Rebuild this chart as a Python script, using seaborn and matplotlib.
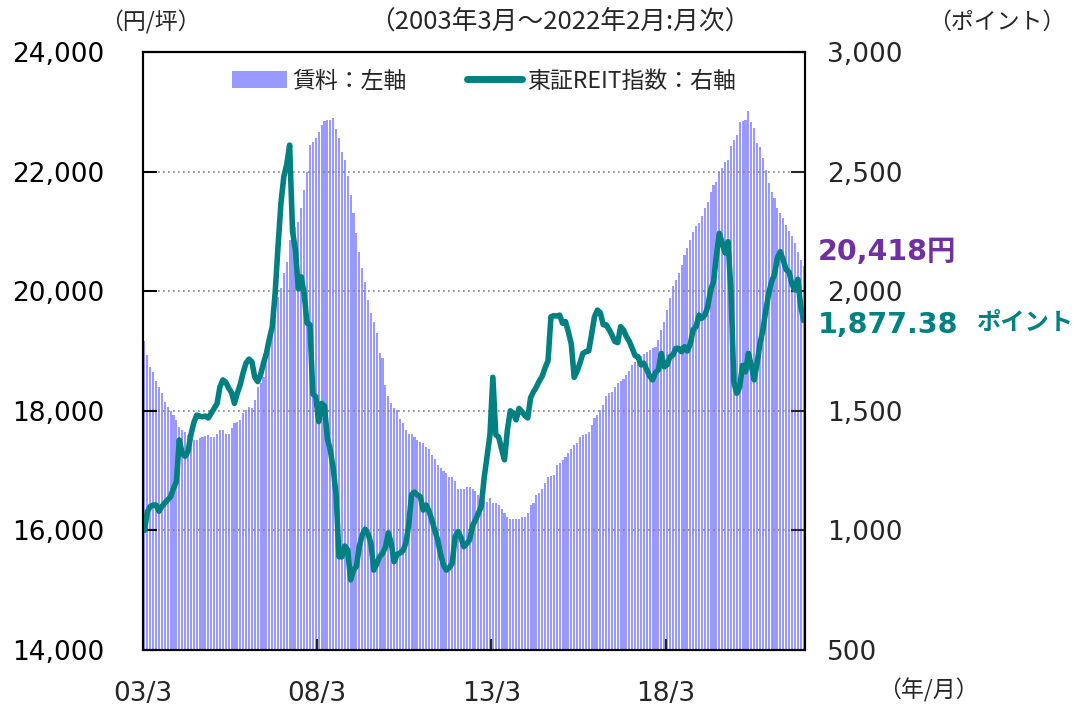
import numpy as np
import pandas as pd

import matplotlib
matplotlib.use("Agg")
import matplotlib.pyplot as plt
from matplotlib.patches import Patch
from matplotlib.lines import Line2D
from matplotlib.ticker import FuncFormatter
import seaborn as sns

# monthly data, 2003/3 - 2022/2
months = pd.date_range("2003-03-01", periods=228, freq="MS")

# office rent (yen / tsubo), left axis
rent = [
    19160, 18930, 18740, 18650, 18490, 18400, 18290, 18150, 18070, 17990,
    17930, 17850, 17730, 17680, 17650, 17600, 17510, 17510, 17510, 17540,
    17570, 17580, 17600, 17560, 17560, 17620, 17680, 17680, 17620, 17620,
    17710, 17790, 17820, 17850, 17960, 18020, 18070, 18040, 18180, 18400,
    18460, 18570, 18850, 19100, 19350, 19740, 19910, 20050, 20300, 20480,
    20860, 21080, 21080, 21160, 21390, 21690, 22000, 22450, 22490, 22560,
    22670, 22780, 22840, 22860, 22860, 22890, 22720, 22560, 22330, 22190,
    21920, 21610, 21300, 20970, 20660, 20380, 20160, 19850, 19630, 19490,
    19300, 18960, 18890, 18430, 18240, 18130, 18040, 18010, 17860, 17790,
    17680, 17620, 17620, 17560, 17510, 17480, 17460, 17400, 17360, 17260,
    17190, 17090, 17040, 17000, 16960, 16900, 16890, 16830, 16700, 16700,
    16700, 16730, 16720, 16700, 16660, 16590, 16550, 16510, 16480, 16540,
    16460, 16450, 16430, 16350, 16290, 16230, 16190, 16190, 16190, 16190,
    16220, 16220, 16290, 16430, 16450, 16590, 16620, 16690, 16790, 16890,
    16910, 16930, 17090, 17130, 17170, 17220, 17290, 17360, 17420, 17460,
    17560, 17600, 17620, 17650, 17760, 17880, 17930, 18010, 18100, 18250,
    18290, 18320, 18400, 18460, 18490, 18530, 18600, 18660, 18770, 18820,
    18880, 18910, 18950, 18990, 19020, 19050, 19070, 19190, 19350, 19490,
    19690, 19880, 20080, 20190, 20300, 20440, 20600, 20720, 20860, 20995,
    21090, 21134, 21256, 21385, 21496, 21663, 21775, 21830, 21997, 22053,
    22164, 22192, 22428, 22528, 22612, 22835, 22840, 22863, 23014, 22835,
    22724, 22473, 22417, 22220, 22027, 21815, 21663, 21552, 21385, 21302,
    21218, 21110, 21000, 20920, 20800, 20660, 20520, 20418,
]

# TSE REIT index (points), right axis
reit = [
    1000, 1078, 1100, 1106, 1106, 1080, 1100, 1115, 1127, 1141,
    1176, 1204, 1378, 1322, 1310, 1330, 1400, 1450, 1482, 1478,
    1475, 1478, 1470, 1490, 1510, 1530, 1600, 1629, 1620, 1595,
    1576, 1531, 1575, 1610, 1660, 1700, 1716, 1705, 1640, 1622,
    1650, 1700, 1740, 1800, 1850, 1990, 2186, 2367, 2479, 2530,
    2611, 2250, 2172, 2010, 2060, 1990, 1866, 1860, 1570, 1559,
    1455, 1531, 1520, 1385, 1336, 1260, 1150, 890, 890, 935,
    918, 793, 834, 850, 932, 981, 1005, 985, 946, 834,
    860, 890, 904, 930, 990, 946, 869, 900, 905, 915,
    946, 1020, 1150, 1160, 1148, 1141, 1085, 1106, 1080, 1043,
    1000, 960, 900, 855, 834, 845, 862, 974, 995, 970,
    932, 945, 960, 1020, 1043, 1071, 1100, 1220, 1310, 1400,
    1640, 1400, 1390, 1340, 1295, 1420, 1500, 1490, 1462, 1510,
    1496, 1480, 1470, 1555, 1580, 1600, 1625, 1645, 1680, 1710,
    1893, 1898, 1896, 1900, 1866, 1873, 1830, 1780, 1640, 1665,
    1700, 1740, 1747, 1750, 1820, 1893, 1921, 1910, 1860, 1860,
    1840, 1817, 1790, 1785, 1852, 1838, 1810, 1790, 1761, 1730,
    1726, 1692, 1699, 1671, 1645, 1629, 1660, 1671, 1740, 1684,
    1692, 1726, 1733, 1761, 1761, 1747, 1768, 1750, 1780, 1840,
    1852, 1900, 1887, 1900, 1935, 2005, 2040, 2150, 2242, 2200,
    2160, 2207, 2000, 1620, 1573, 1600, 1690, 1663, 1740, 1690,
    1629, 1700, 1780, 1838, 1920, 1990, 2040, 2070, 2140, 2165,
    2130, 2090, 2080, 2030, 2005, 2050, 1940, 1877.38,
]

xtick_labels = ["03/3", "08/3", "13/3", "18/3"]
rent_ticks = [14000, 16000, 18000, 20000, 22000, 24000]
reit_ticks = [500, 1000, 1500, 2000, 2500, 3000]

BAR_COLOR = "#9999FF"
LINE_COLOR = "#008080"
RENT_COLOR = "#7030A0"

sns.set_style("white")
plt.rcParams["font.family"] = ["DejaVu Sans", "Noto Sans CJK JP"]
JP = ["Noto Sans CJK JP", "DejaVu Sans"]

W, H = 1082, 707
fig = plt.figure(figsize=(W / 100, H / 100), dpi=100)
ax = fig.add_axes([143 / W, (H - 650) / H, (805 - 143) / W, (650 - 52) / H])

idx = np.arange(len(months))
sns.barplot(x=idx, y=rent, color=BAR_COLOR, width=0.72, saturation=1,
            edgecolor="none", ax=ax)

ax2 = ax.twinx()
sns.lineplot(x=idx, y=reit, color=LINE_COLOR, linewidth=4.0, ax=ax2)

ax.set_xlim(-0.5, len(months) - 0.5)
ax.set_ylim(14000, 24000)
ax2.set_ylim(500, 3000)

# ticks every 5 years, at the start of March
tick_pos = [i - 0.5 for i, m in enumerate(months) if m.month == 3 and (m.year - 2003) % 5 == 0]
ax.set_xticks(tick_pos)
ax.set_xticklabels(xtick_labels)
ax.set_yticks(rent_ticks)
ax2.set_yticks(reit_ticks)
fmt = FuncFormatter(lambda v, p: f"{int(v):,}")
ax.yaxis.set_major_formatter(fmt)
ax2.yaxis.set_major_formatter(fmt)

ax.set_xlabel("")
ax.set_ylabel("")
ax2.set_ylabel("")

ax.tick_params(axis="y", direction="in", length=10, width=1.5, pad=28,
               labelsize=19, colors="black", left=True)
ax.tick_params(axis="x", direction="in", length=8, width=1.5, pad=22,
               labelsize=19, bottom=True)
ax2.tick_params(axis="y", direction="in", length=10, width=1.5, pad=16,
                labelsize=19, right=True)

ax.yaxis.grid(True, linestyle=(0, (1, 2)), color="#808080", linewidth=1.2)
ax.xaxis.grid(False)
ax2.grid(False)
ax.set_axisbelow(False)

for a in (ax, ax2):
    for s in a.spines.values():
        s.set_visible(True)
        s.set_color("black")
        s.set_linewidth(1.5)

handles = [
    Patch(facecolor=BAR_COLOR, edgecolor="none"),
    Line2D([0], [0], color=LINE_COLOR, linewidth=5, solid_capstyle="round"),
]
fig.legend(handles, ["賃料：左軸", "東証REIT指数：右軸"], loc="center",
           bbox_to_anchor=(484 / W, 1 - 81 / H), ncol=2, frameon=False,
           handlelength=2.4, handleheight=0.7, handletextpad=0.25,
           columnspacing=2.6, prop={"family": JP, "size": 16.5})

# unit labels and period
fig.text(150 / W, 1 - 22 / H, "（円/坪）", family=JP, fontsize=16.5, ha="center", va="center")
fig.text(560 / W, 1 - 22 / H, "（2003年3月～2022年2月:月次）", family=JP, fontsize=18.5,
         ha="center", va="center")
fig.text(997 / W, 1 - 22 / H, "（ポイント）", family=JP, fontsize=16.5, ha="center", va="center")
fig.text(928 / W, 1 - 690 / H, "（年/月）", family=JP, fontsize=16.5, ha="center", va="center")

# latest values
fig.text(818 / W, 1 - 252 / H, f"{rent[-1]:,}円", family=["DejaVu Sans", "Noto Sans CJK JP"],
         fontsize=20.5, fontweight="bold", color=RENT_COLOR, ha="left", va="center")
fig.text(818 / W, 1 - 325 / H, f"{reit[-1]:,.2f}", fontsize=20.5, fontweight="bold",
         color=LINE_COLOR, ha="left", va="center")
fig.text(976 / W, 1 - 323 / H, "ポイント", family=JP, fontsize=17.5, fontweight="bold",
         color=LINE_COLOR, ha="left", va="center")

fig.savefig("out.png", dpi=100)
plt.close(fig)
